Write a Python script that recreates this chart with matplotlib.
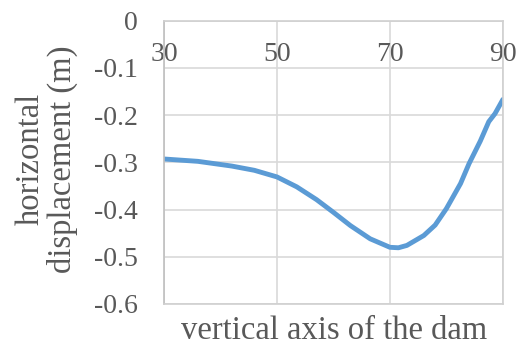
import matplotlib.pyplot as plt

dam_x = [30, 36, 42, 46, 50, 53.5, 57, 60, 63, 66.5, 70, 71.5, 73,
         76, 78, 80, 82.5, 84, 86, 87.5, 88.6, 90]
disp = [-0.293, -0.298, -0.308, -0.317, -0.331, -0.352, -0.379, -0.406,
        -0.434, -0.462, -0.480, -0.481, -0.476, -0.455, -0.433, -0.398,
        -0.345, -0.303, -0.255, -0.214, -0.197, -0.167]

x_ticks = [30, 50, 70, 90]
y_ticks = [0, -0.1, -0.2, -0.3, -0.4, -0.5, -0.6]
y_labels = ['0', '-0.1', '-0.2', '-0.3', '-0.4', '-0.5', '-0.6']

txt_color = '#595959'
plt.rcParams['font.family'] = ['Liberation Serif', 'DejaVu Serif']

fig = plt.figure(figsize=(5.19, 3.49), dpi=100)
ax = fig.add_axes([0.316, 0.129, 0.653, 0.812])

ax.plot(dam_x, disp, color='#5B9BD5', linewidth=3.5, solid_capstyle='round',
        solid_joinstyle='round')

ax.set_xlim(30, 90)
ax.set_ylim(-0.6, 0)
ax.set_xticks(x_ticks)
ax.set_yticks(y_ticks)
ax.set_yticklabels(y_labels)
ax.grid(True, color='#D9D9D9', linewidth=1.2)
ax.set_axisbelow(True)

for s in ax.spines.values():
    s.set_color('#D0D0D0')
    s.set_linewidth(1.2)
ax.spines['left'].set_color('#BFBFBF')

ax.tick_params(axis='y', length=0, pad=19, labelsize=20, labelcolor=txt_color)
ax.tick_params(axis='x', length=0, labeltop=True, labelbottom=False,
               pad=-33.5, labelsize=20, labelcolor=txt_color)

fig.text(0.643, 0.03, 'vertical axis of the dam', ha='center', va='baseline',
         fontsize=23.5, color=txt_color)
fig.text(0.09, 0.544, 'horizontal\ndisplacement (m)', ha='center', va='center',
         rotation=90, fontsize=23.5, color=txt_color, multialignment='center',
         linespacing=1.05)

fig.savefig('out.png', dpi=100)
